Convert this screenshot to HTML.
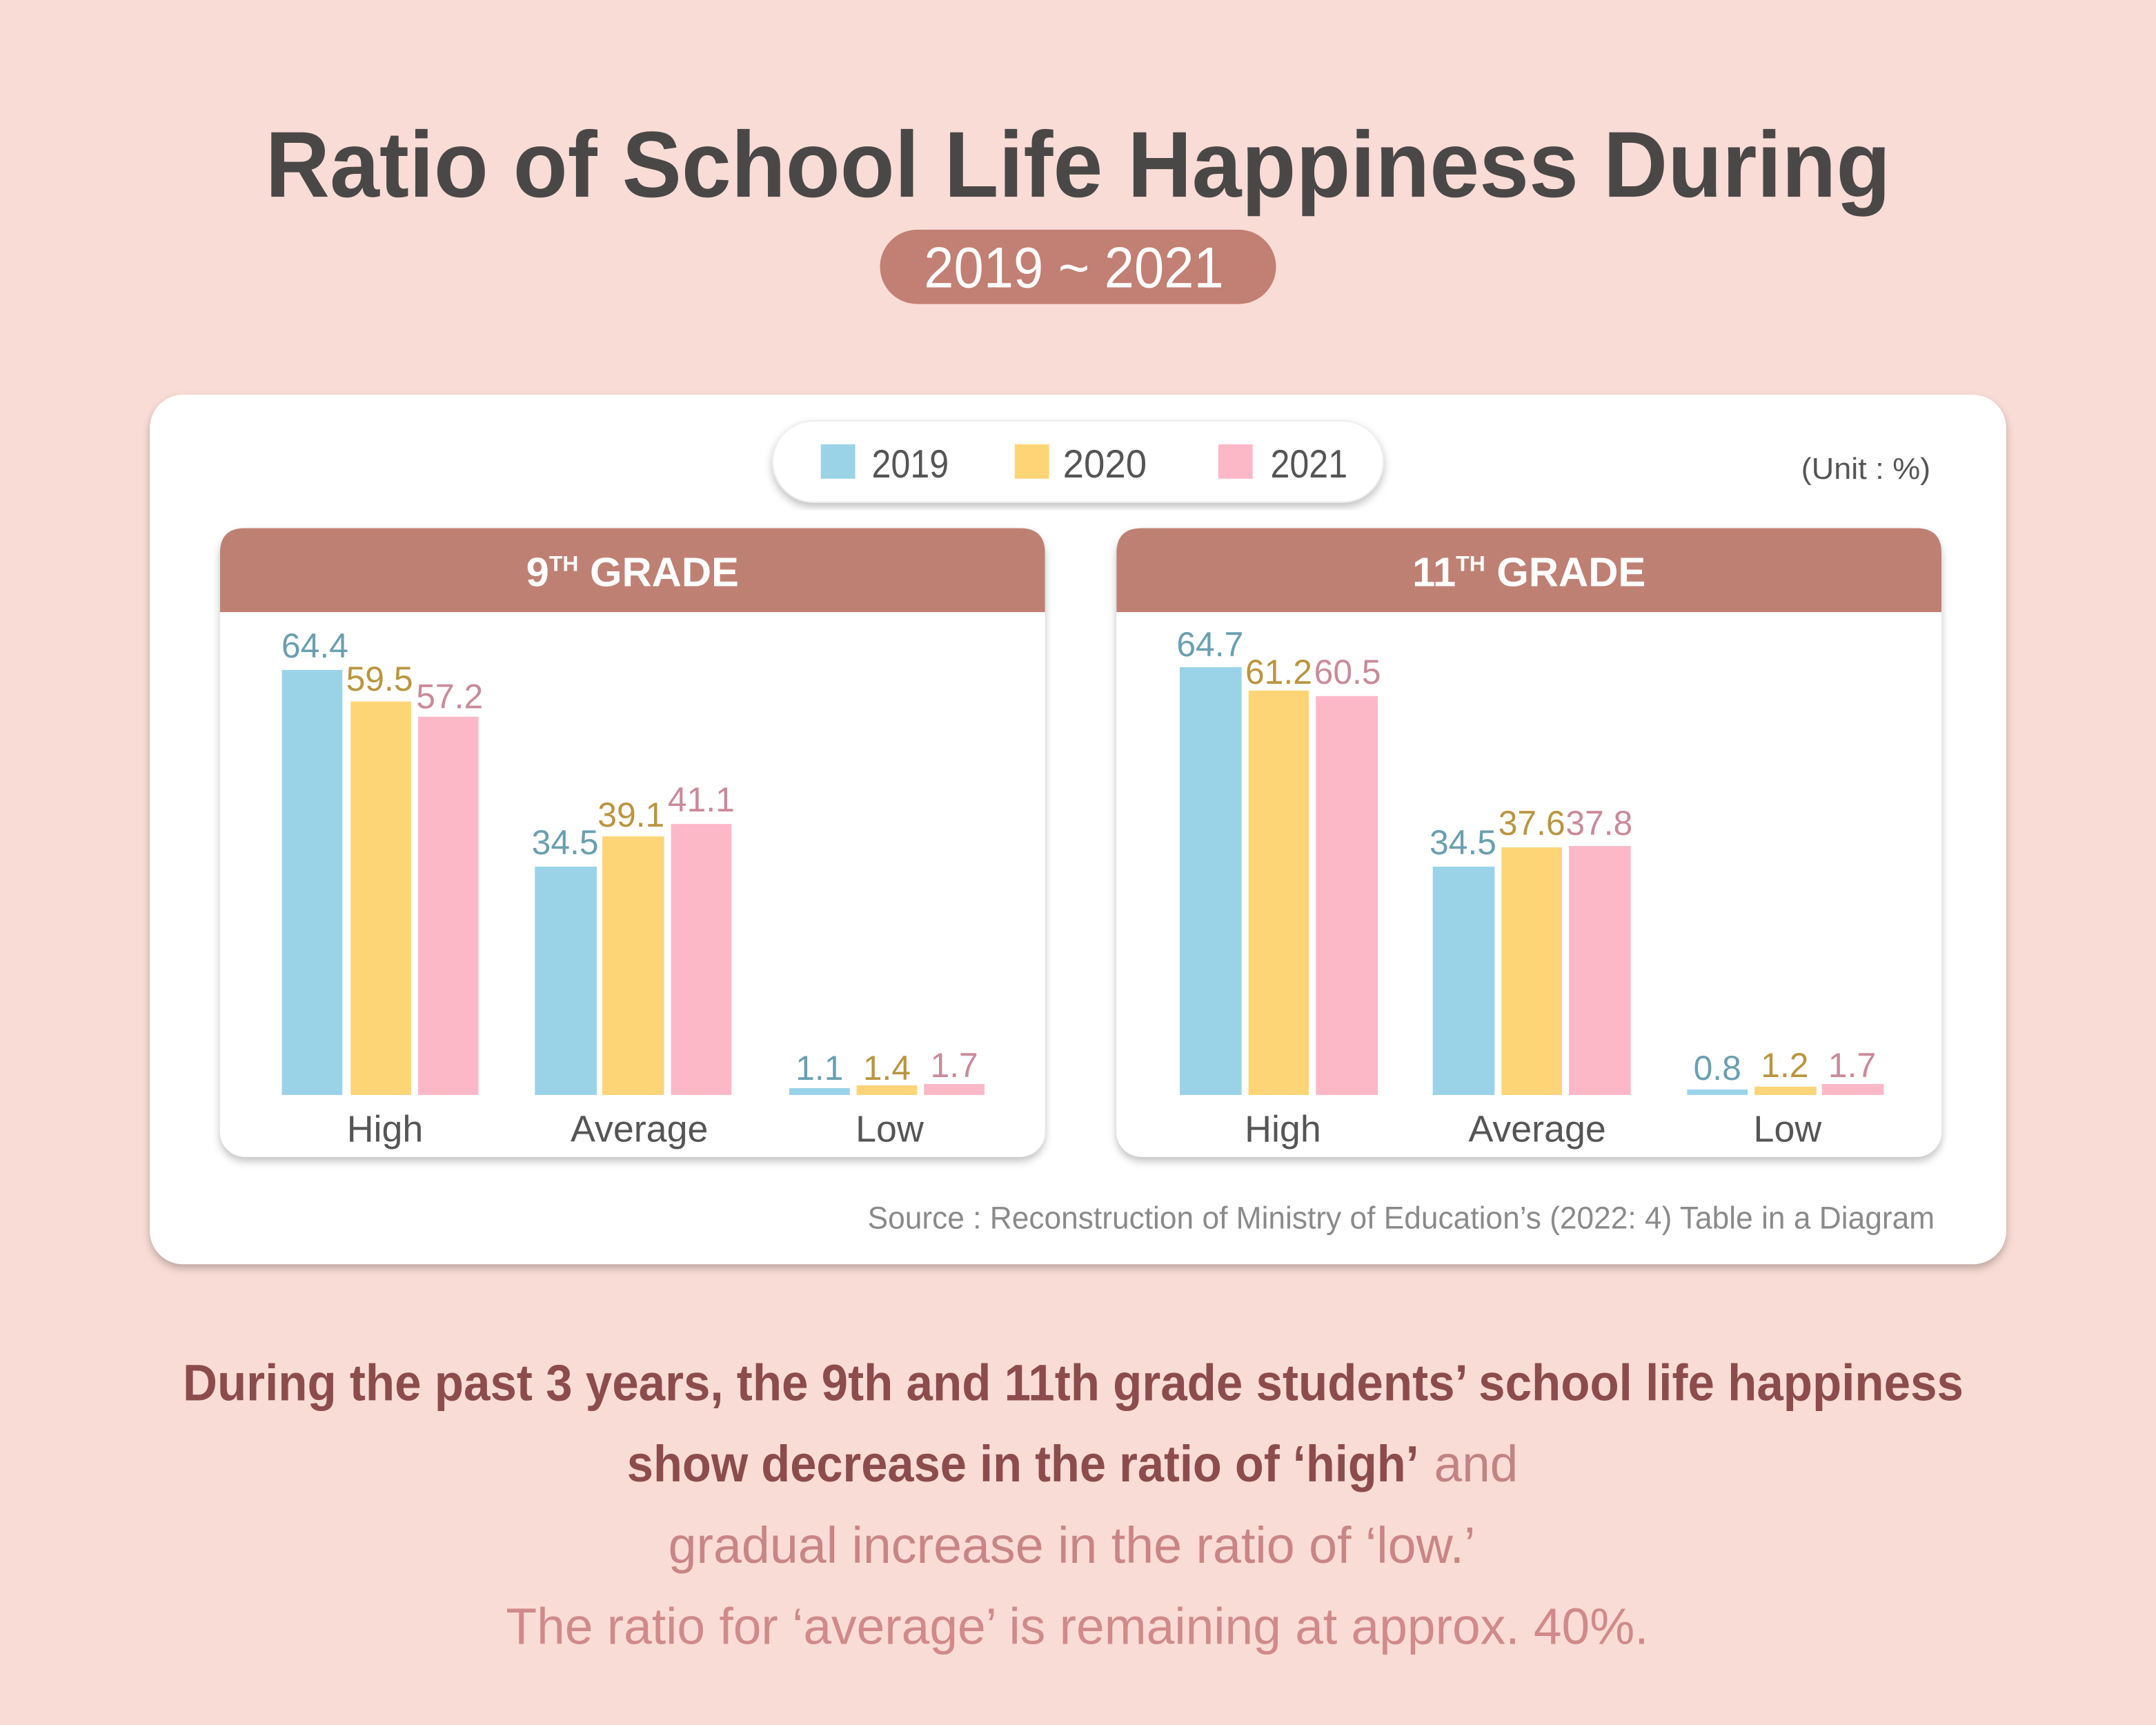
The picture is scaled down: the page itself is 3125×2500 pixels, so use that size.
<!DOCTYPE html>
<html><head><meta charset="utf-8"><style>
html,body{margin:0;padding:0;background:#f9dcd5;}
svg{display:block;}
text{font-family:"Liberation Sans",sans-serif;}
</style></head><body>
<svg width="3125" height="2500" viewBox="0 0 1568 1254" preserveAspectRatio="none" xmlns="http://www.w3.org/2000/svg">
<defs>
<filter id="sh" x="-5%" y="-5%" width="110%" height="115%"><feDropShadow dx="0" dy="3" stdDeviation="3" flood-color="#000" flood-opacity="0.25"/></filter>
</defs>
<rect width="1568" height="1254" fill="#f9dcd5"/>
<text x="784" y="143" text-anchor="middle" font-size="68" font-weight="bold" fill="#4a4747" textLength="1182" lengthAdjust="spacingAndGlyphs">Ratio of School Life Happiness During</text>
<rect x="640" y="167" width="288" height="54" rx="27" fill="#c27f73"/>
<text x="781" y="209" text-anchor="middle" font-size="42" fill="#fff" textLength="218" lengthAdjust="spacingAndGlyphs">2019 ~ 2021</text>

<rect x="109" y="287" width="1350" height="632" rx="24" fill="#fff" filter="url(#sh)"/>
<rect x="562" y="306" width="444" height="59" rx="29.5" fill="#fff" stroke="#eee" filter="url(#sh)"/>
<rect x="597" y="323" width="25" height="25" fill="#9ad3e8"/>
<text x="634" y="347" font-size="29" fill="#555" textLength="56" lengthAdjust="spacingAndGlyphs">2019</text>
<rect x="738" y="323" width="25" height="25" fill="#fdd577"/>
<text x="773" y="347" font-size="29" fill="#555" textLength="61" lengthAdjust="spacingAndGlyphs">2020</text>
<rect x="886" y="323" width="25" height="25" fill="#fdb8c8"/>
<text x="924" y="347" font-size="29" fill="#555" textLength="56" lengthAdjust="spacingAndGlyphs">2021</text>
<text x="1404" y="348" text-anchor="end" font-size="22" fill="#555" textLength="94" lengthAdjust="spacingAndGlyphs">(Unit : %)</text>

<!-- panel 1 -->
<g>
<rect x="160" y="384" width="600" height="457" rx="18" fill="#fff" filter="url(#sh)"/>
<path d="M160 445 V402 Q160 384 178 384 H742 Q760 384 760 402 V445 Z" fill="#bf8074"/>
<text x="460" y="426" text-anchor="middle" font-size="30" font-weight="bold" fill="#fff">9<tspan font-size="16" dy="-11">TH</tspan><tspan dy="11"> GRADE</tspan></text>
</g>
<g>
<rect x="812" y="384" width="600" height="457" rx="18" fill="#fff" filter="url(#sh)"/>
<path d="M812 445 V402 Q812 384 830 384 H1394 Q1412 384 1412 402 V445 Z" fill="#bf8074"/>
<text x="1112" y="426" text-anchor="middle" font-size="30" font-weight="bold" fill="#fff">11<tspan font-size="16" dy="-11">TH</tspan><tspan dy="11"> GRADE</tspan></text>
</g>

<g font-size="25">
<!-- panel1 bars -->
<rect x="205" y="487" width="44" height="309" fill="#9ad3e8"/>
<rect x="255" y="510" width="44" height="286" fill="#fdd577"/>
<rect x="304" y="521" width="44" height="275" fill="#fdb8c8"/>
<rect x="389" y="630" width="45" height="166" fill="#9ad3e8"/>
<rect x="438" y="608" width="45" height="188" fill="#fdd577"/>
<rect x="488" y="599" width="44" height="197" fill="#fdb8c8"/>
<rect x="574" y="791" width="44" height="5" fill="#9ad3e8"/>
<rect x="623" y="789" width="44" height="7" fill="#fdd577"/>
<rect x="672" y="788" width="44" height="8" fill="#fdb8c8"/>
<text x="229" y="478" text-anchor="middle" fill="#6a9fb0">64.4</text>
<text x="276" y="502" text-anchor="middle" fill="#b99540">59.5</text>
<text x="327" y="515" text-anchor="middle" fill="#c98a9a">57.2</text>
<text x="411" y="621" text-anchor="middle" fill="#6a9fb0">34.5</text>
<text x="459" y="601" text-anchor="middle" fill="#b99540">39.1</text>
<text x="510" y="590" text-anchor="middle" fill="#c98a9a">41.1</text>
<text x="596" y="785" text-anchor="middle" fill="#6a9fb0">1.1</text>
<text x="645" y="785" text-anchor="middle" fill="#b99540">1.4</text>
<text x="694" y="783" text-anchor="middle" fill="#c98a9a">1.7</text>
<!-- panel2 bars -->
<rect x="858" y="485" width="45" height="311" fill="#9ad3e8"/>
<rect x="908" y="502" width="44" height="294" fill="#fdd577"/>
<rect x="957" y="506" width="45" height="290" fill="#fdb8c8"/>
<rect x="1042" y="630" width="45" height="166" fill="#9ad3e8"/>
<rect x="1092" y="616" width="44" height="180" fill="#fdd577"/>
<rect x="1141" y="615" width="45" height="181" fill="#fdb8c8"/>
<rect x="1227" y="792" width="44" height="4" fill="#9ad3e8"/>
<rect x="1276" y="790" width="45" height="6" fill="#fdd577"/>
<rect x="1325" y="788" width="45" height="8" fill="#fdb8c8"/>
<text x="880" y="477" text-anchor="middle" fill="#6a9fb0">64.7</text>
<text x="930" y="497" text-anchor="middle" fill="#b99540">61.2</text>
<text x="980" y="497" text-anchor="middle" fill="#c98a9a">60.5</text>
<text x="1064" y="621" text-anchor="middle" fill="#6a9fb0">34.5</text>
<text x="1114" y="607" text-anchor="middle" fill="#b99540">37.6</text>
<text x="1163" y="607" text-anchor="middle" fill="#c98a9a">37.8</text>
<text x="1249" y="785" text-anchor="middle" fill="#6a9fb0">0.8</text>
<text x="1298" y="783" text-anchor="middle" fill="#b99540">1.2</text>
<text x="1347" y="783" text-anchor="middle" fill="#c98a9a">1.7</text>
</g>
<g font-size="27" fill="#555" text-anchor="middle">
<text x="280" y="830">High</text>
<text x="465" y="830">Average</text>
<text x="647" y="830">Low</text>
<text x="933" y="830">High</text>
<text x="1118" y="830">Average</text>
<text x="1300" y="830">Low</text>
</g>
<text x="1407" y="893" text-anchor="end" font-size="23" fill="#8a8a8a" textLength="776" lengthAdjust="spacingAndGlyphs">Source : Reconstruction of Ministry of Education’s (2022: 4) Table in a Diagram</text>

<text x="133" y="1018" font-size="37" font-weight="bold" fill="#8c4c4c" textLength="1295" lengthAdjust="spacingAndGlyphs">During the past 3 years, the 9th and 11th grade students’ school life happiness</text>
<text x="456" y="1077" font-size="37" font-weight="bold" fill="#8c4c4c" textLength="576" lengthAdjust="spacingAndGlyphs">show decrease in the ratio of ‘high’</text>
<text x="1043" y="1077" font-size="37" fill="#c28383" textLength="61" lengthAdjust="spacingAndGlyphs">and</text>
<text x="486" y="1136" font-size="37" fill="#c98585" textLength="587" lengthAdjust="spacingAndGlyphs">gradual increase in the ratio of ‘low.’</text>
<text x="368" y="1195" font-size="37" fill="#d08a8a" textLength="831" lengthAdjust="spacingAndGlyphs">The ratio for ‘average’ is remaining at approx. 40%.</text>
</svg>
</body></html>
